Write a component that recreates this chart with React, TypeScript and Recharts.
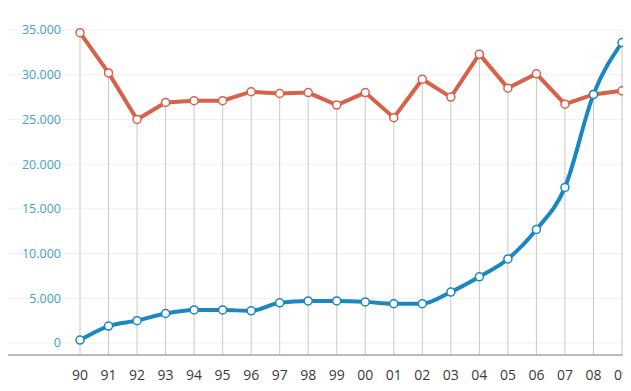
import { CartesianGrid, ErrorBar, Line, LineChart, XAxis, YAxis } from 'recharts'

const years = ['90', '91', '92', '93', '94', '95', '96', '97', '98', '99', '00', '01', '02', '03', '04', '05', '06', '07', '08', '09']
const redValues = [34700, 30200, 25000, 26900, 27100, 27100, 28100, 27900, 28000, 26600, 28000, 25200, 29500, 27500, 32300, 28500, 30100, 26700, 27800, 28200]
const blueValues = [330, 1900, 2500, 3300, 3700, 3700, 3600, 4500, 4700, 4700, 4600, 4400, 4400, 5700, 7400, 9400, 12700, 17400, 27800, 33600]
const yTicks = [0, 5000, 10000, 15000, 20000, 25000, 30000, 35000]
const yMin = -1340

const data = years.map((year, i) => {
  const top = Math.max(redValues[i], blueValues[i])
  return { year, red: redValues[i], blue: blueValues[i], top, drop: [top - yMin, 0] }
})

const fmt = (v: number) => v.toLocaleString('de-DE')

export default function App() {
  return (
    <div style={{ margin: -8, width: 631, height: 391, background: '#fff' }}>
      <LineChart width={631} height={391} data={data} margin={{ top: 30, right: 0, bottom: 0, left: 0 }}>
        <CartesianGrid vertical={false} stroke="#f1f1f1" />
        <XAxis
          dataKey="year"
          interval={0}
          padding={{ left: 72, right: 9 }}
          height={36}
          tickLine={false}
          tickSize={0}
          tickMargin={15}
          axisLine={{ stroke: '#a8a8a8', strokeWidth: 1.5 }}
          tick={{ fill: '#3a3a3a', fontSize: 14, fontFamily: 'Open Sans' }}
        />
        <YAxis
          width={8}
          domain={[yMin, 35000]}
          ticks={yTicks}
          interval={0}
          axisLine={false}
          tickLine={false}
          tickSize={0}
          tickFormatter={fmt}
          tick={{ fill: '#45a2cc', fontSize: 12.5, fontFamily: 'Open Sans', dx: 55 }}
        />
        <Line dataKey="top" stroke="none" dot={false} activeDot={false} isAnimationActive={false} legendType="none">
          <ErrorBar dataKey="drop" direction="y" width={0} stroke="#c8c8c8" strokeWidth={1} />
        </Line>
        <Line
          type="linear"
          dataKey="red"
          stroke="#d9604b"
          strokeWidth={4}
          dot={{ r: 4, fill: '#fff', stroke: '#d9604b', strokeWidth: 1.5 }}
          isAnimationActive={false}
        />
        <Line
          type="monotone"
          dataKey="blue"
          stroke="#1a87c1"
          strokeWidth={4}
          dot={{ r: 4, fill: '#fff', stroke: '#1a87c1', strokeWidth: 1.5 }}
          isAnimationActive={false}
        />
      </LineChart>
    </div>
  )
}
